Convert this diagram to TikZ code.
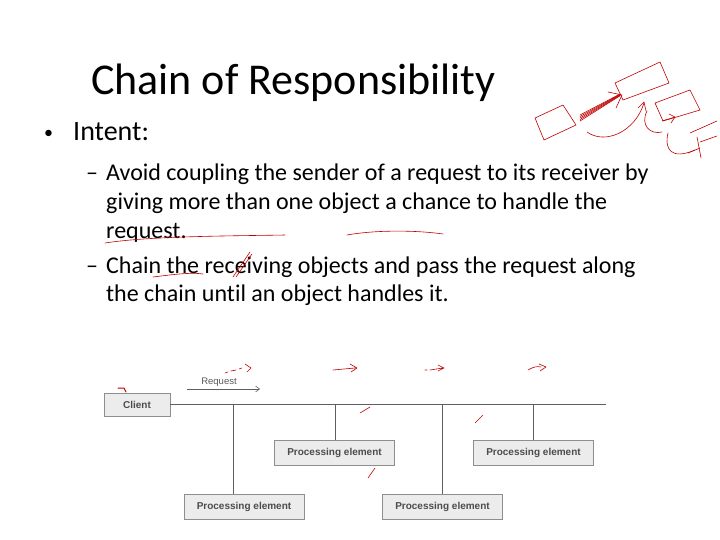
\documentclass[tikz,border=0pt]{standalone}
\usepackage{fontspec}
\setmainfont{Carlito}[Ligatures=NoCommon]
\newfontfamily\diag{Liberation Sans}
\usetikzlibrary{arrows.meta}
\definecolor{ink}{HTML}{C00000}
\definecolor{boxfill}{HTML}{ECECEC}
\definecolor{boxline}{HTML}{8E8E8E}
\definecolor{wire}{HTML}{5E5E5E}
\tikzset{
  pebox/.style={draw=boxline, fill=boxfill, line width=0.8pt, minimum width=120pt, minimum height=25pt, inner sep=0pt, font=\diag\bfseries\fontsize{10}{11}\selectfont, text=black!70},
  clientbox/.style={pebox, minimum width=66pt, minimum height=23pt},
  wireline/.style={draw=wire, line width=0.7pt},
  txt/.style={anchor=base west, inner sep=0pt},
  body/.style={txt, font=\fontsize{24}{28}\selectfont},
  pen/.style={draw=ink, line width=0.6pt, line cap=round, line join=round},
}
\begin{document}
\begin{tikzpicture}[x=1pt,y=-1pt]
\useasboundingbox (0,0) rectangle (720,540);
% title and text
\node[txt, font=\fontsize{44}{48}\selectfont] (title) at (91,95) {Chain of Responsibility};
\node[txt, font=\fontsize{18}{20}\selectfont] (bul) at (44,139) {•};
\node[txt, font=\fontsize{28}{32}\selectfont] (intent) at (73,141) {Intent:};
\node[body] (d1) at (86,181) {–};
\node[body] (l1) at (106,181) {Avoid coupling the sender of a request to its receiver by};
\node[body] (l2) at (106,210) {giving more than one object a chance to handle the};
\node[body] (l3) at (106,238) {request.};
\node[body] (d2) at (86,273) {–};
\node[body] (l4) at (106,273) {Chain the receiving objects and pass the request along};
\node[body] (l5) at (106,301) {the chain until an object handles it.};

% diagram
\node[clientbox] (client) at (137,404.5) {Client};
\coordinate (bend) at (606,404);
\node[pebox] (pe1) at (244,506.5) {Processing element};
\node[pebox] (pe2) at (334.5,452.5) {Processing element};
\node[pebox] (pe3) at (442.5,506.5) {Processing element};
\node[pebox] (pe4) at (533.5,452.5) {Processing element};
\coordinate (j1) at (233.5,404);
\coordinate (j2) at (335.5,404);
\coordinate (j3) at (442,404);
\coordinate (j4) at (533,404);
\draw[wireline] (client.east |- bend) -- (bend);
\draw[wireline] (j1) -- (j1 |- pe1.north);
\draw[wireline] (j2) -- (j2 |- pe2.north);
\draw[wireline] (j3) -- (j3 |- pe3.north);
\draw[wireline] (j4) -- (j4 |- pe4.north);
\node[font=\diag\fontsize{9.5}{11}\selectfont, text=black!65, inner sep=0pt] (req) at (219,382.5) {Request};
\coordinate (ra) at (187,389);
\coordinate (rb) at (260,389);
\draw[wireline, line width=0.6pt, -{Straight Barb[length=4pt,width=6pt]}] (ra) -- (rb);

% handwritten annotations
% underlines
\draw[pen] (105,243) .. controls (150,236) and (230,236) .. (285,235);
\draw[pen] (347,235) .. controls (375,230) and (415,230) .. (443,234);
\draw[pen] (153,277) .. controls (170,275) and (190,272) .. (203,274);
\draw[pen] (233,277) -- (250,252);
\draw[pen] (236,277) -- (252,254);
% small arrows above the diagram
\draw[pen] (225,373) -- (228,372) (231,371) -- (236,370) (239,369) -- (242,368);
\draw[pen] (245,364) -- (251,368) -- (247,372);
\draw[pen] (333,370) -- (355,368) (350,364) -- (357,368) -- (351,372);
\draw[pen] (425,370) -- (427,370) (430,370) -- (443,368) (438,365) -- (444,368) -- (438,371);
\draw[pen] (528,370) .. controls (533,367) and (537,366) .. (541,367) (539,364) -- (546,367) -- (540,371);
\draw[pen, line width=1pt] (118,388) -- (124,388) -- (126,392);
% slashes in diagram
\draw[pen] (360,413) -- (370,407);
\draw[pen] (368,478) -- (375,468);
\draw[pen] (475,423) -- (483,415);
% sketch top right
\draw[pen] (535,118) -- (563,105) -- (576,125) -- (544,140) -- cycle;
\draw[pen] (615,83) -- (660,62) -- (669,83) -- (623,100) -- cycle;
\draw[pen] (655,103) -- (690,90) -- (700,110) -- (663,121) -- cycle;
\draw[pen] (690,133) -- (717,121) (717,136) -- (700,142);
\foreach \d in {0,1.5,3,4.5,6} {
  \draw[pen] (580,115+\d) -- (620,94+\d*0.3);
}
\draw[pen] (608,92) -- (622,95) -- (616,108);
\draw[pen] (587,132) .. controls (605,145) and (635,132) .. (644,103);
\draw[pen] (638,108) -- (644,102) -- (646,111);
\draw[pen] (647,111) .. controls (640,125) and (650,135) .. (662,132);
\draw[pen] (662,121) -- (675,117) (669,114) -- (675,117) -- (671,123);
\draw[pen] (668,133) .. controls (664,150) and (672,160) .. (695,150);
\draw[pen] (688,153) -- (700,148) (697,137) -- (701,158);
\end{tikzpicture}
\end{document}
